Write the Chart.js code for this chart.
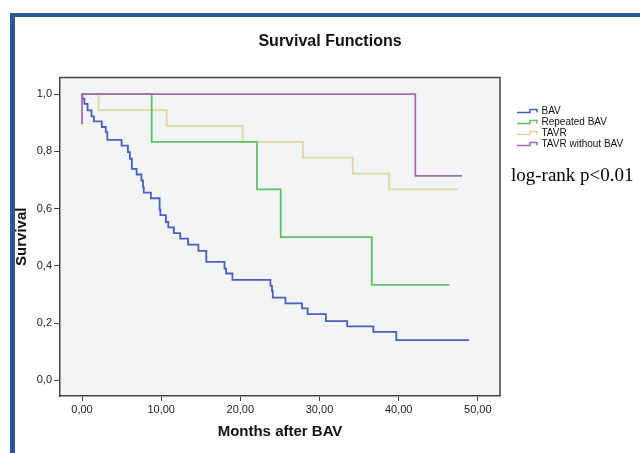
<!DOCTYPE html>
<html>
<head>
<meta charset="utf-8">
<script src="https://cdn.jsdelivr.net/npm/chart.js@4"></script>
<style>
    body { margin: 0; background: #fff; }
    #frame {
        position: absolute; left: 10px; top: 13px; width: 640px; height: 450px;
        border-top: 4px solid #28589a; border-left: 5px solid #28589a;
    }
    #survChart { position: absolute; left: 0; top: 0; }
</style>
</head>
<body>
<div id="frame"></div>
<canvas id="survChart" width="640" height="453"></canvas>
<script>
// Kaplan-Meier steps (months, cumulative survival)
const bavTime = [0, 0.05, 0.3, 0.7, 1.2, 1.5, 2.5, 3.0, 3.2, 5.0, 5.8, 6.05, 6.3, 6.9, 7.5, 7.7, 7.8, 8.7, 9.8, 9.9,
    10.6, 10.9, 11.6, 12.4, 13.4, 14.7, 15.7, 18.0, 18.2, 19.0, 23.8, 24.0, 24.1, 25.7, 27.8, 28.5, 30.8, 33.5, 36.8, 39.7, 48.9];
const bavSurv = [1, 0.984, 0.966, 0.943, 0.922, 0.905, 0.885, 0.867, 0.84, 0.82, 0.797, 0.774, 0.739, 0.719, 0.698, 0.675, 0.656, 0.636, 0.596, 0.577,
    0.553, 0.534, 0.514, 0.495, 0.474, 0.452, 0.414, 0.39, 0.373, 0.351, 0.33, 0.312, 0.289, 0.269, 0.251, 0.231, 0.207, 0.188, 0.169, 0.14, 0.14];

const rebavTime = [0, 8.8, 22.1, 25.1, 36.6, 46.4];
const rebavSurv = [1, 0.833, 0.667, 0.5, 0.333, 0.333];

const tavrTime = [0, 2.1, 10.7, 20.3, 27.9, 34.2, 38.8, 47.5];
const tavrSurv = [1, 0.944, 0.889, 0.833, 0.778, 0.722, 0.667, 0.667];

const tavrNoBavTime = [0, 0, 42.1, 48.0];
const tavrNoBavSurv = [0.895, 1, 0.714, 0.714];

const seriesLabels = ['BAV', 'Repeated BAV', 'TAVR', 'TAVR without BAV'];
const seriesColors = ['#4a5fc0', '#5ec265', '#e0d99f', '#a06ea8'];

const xTicks = [0, 10, 20, 30, 40, 50];
const yTicks = [0, 0.2, 0.4, 0.6, 0.8, 1.0];

const toPoints = (t, s) => t.map((v, i) => ({ x: v, y: s[i] }));

const series = [
    toPoints(bavTime, bavSurv),
    toPoints(rebavTime, rebavSurv),
    toPoints(tavrTime, tavrSurv),
    toPoints(tavrNoBavTime, tavrNoBavSurv)
];
const drawOrder = [1, 2, 3, 0];

const FONT = "Arial, 'Liberation Sans', sans-serif";

// plot background, box, title, legend and the log-rank note
const decor = {
    id: 'decor',
    beforeDraw(chart) {
        const { ctx, chartArea: a } = chart;
        ctx.save();
        ctx.fillStyle = '#f3f4f5';
        ctx.fillRect(a.left, a.top, a.right - a.left, a.bottom - a.top);
        ctx.restore();
    },
    afterDraw(chart) {
        const { ctx, chartArea: a } = chart;
        ctx.save();
        ctx.strokeStyle = '#444';
        ctx.lineWidth = 1.5;
        ctx.beginPath();
        ctx.moveTo(a.left, a.top);
        ctx.lineTo(a.right, a.top);
        ctx.lineTo(a.right, a.bottom);
        ctx.stroke();

        ctx.fillStyle = '#111';
        ctx.font = 'bold 16px ' + FONT;
        ctx.textAlign = 'center';
        ctx.textBaseline = 'middle';
        ctx.fillText('Survival Functions', 330, 42);

        ctx.font = '10px ' + FONT;
        ctx.textAlign = 'left';
        chart.data.datasets.forEach((ds, i) => {
            const y = 111 + i * 11;
            ctx.strokeStyle = ds.borderColor;
            ctx.lineWidth = 1.5;
            ctx.beginPath();
            ctx.moveTo(517, y + 1.5);
            ctx.lineTo(530, y + 1.5);
            ctx.lineTo(530, y - 1.5);
            ctx.lineTo(537, y - 1.5);
            ctx.lineTo(537, y + 1.5);
            ctx.stroke();
            ctx.fillStyle = '#111';
            ctx.fillText(ds.label, 541.5, y);
        });

        ctx.font = "19px 'Liberation Serif', 'Times New Roman', serif";
        ctx.textBaseline = 'alphabetic';
        ctx.fillStyle = '#000';
        ctx.fillText('log-rank p<0.01', 511, 181);
        ctx.restore();
    }
};

const ctx = document.getElementById('survChart');

const config = {
    type: 'line',
    data: {
        datasets: series.map((pts, i) => ({
            label: seriesLabels[i],
            data: pts,
            borderColor: seriesColors[i],
            borderWidth: 1.8,
            stepped: true,
            pointRadius: 0,
            fill: false,
            order: drawOrder[i]
        }))
    },
    options: {
        responsive: false,
        animation: false,
        layout: { padding: { top: 77.5, right: 140, bottom: 0, left: 12 } },
        plugins: {
            legend: { display: false },
            title: { display: false },
            tooltip: { enabled: false }
        },
        scales: {
            x: {
                type: 'linear',
                min: -2.78,
                max: 52.8,
                afterBuildTicks: (s) => { s.ticks = xTicks.map((v) => ({ value: v })); },
                afterFit: (s) => { s.height = 57; },
                ticks: {
                    color: '#222',
                    padding: 2,
                    font: { family: FONT, size: 11 },
                    callback: (v) => v.toFixed(2).replace('.', ',')
                },
                grid: { drawOnChartArea: false, drawTicks: true, tickLength: 5, color: '#444' },
                border: { display: true, color: '#444', width: 1.5 },
                title: {
                    display: true,
                    text: 'Months after BAV',
                    color: '#111',
                    font: { family: FONT, size: 15, weight: 'bold' },
                    padding: { top: 4, bottom: 12 }
                }
            },
            y: {
                type: 'linear',
                min: -0.055,
                max: 1.058,
                afterBuildTicks: (s) => { s.ticks = yTicks.map((v) => ({ value: v })); },
                afterFit: (s) => { s.width = 48; },
                ticks: {
                    color: '#222',
                    padding: 2,
                    font: { family: FONT, size: 11 },
                    callback: (v) => v.toFixed(1).replace('.', ',')
                },
                grid: { drawOnChartArea: false, drawTicks: true, tickLength: 6, color: '#444' },
                border: { display: true, color: '#444', width: 1.5 },
                title: {
                    display: true,
                    text: 'Survival',
                    color: '#111',
                    font: { family: FONT, size: 15, weight: 'bold' },
                    padding: { top: 1, bottom: 2 }
                }
            }
        }
    },
    plugins: [decor]
};

const chart = new Chart(ctx, config);
</script>
</body>
</html>
